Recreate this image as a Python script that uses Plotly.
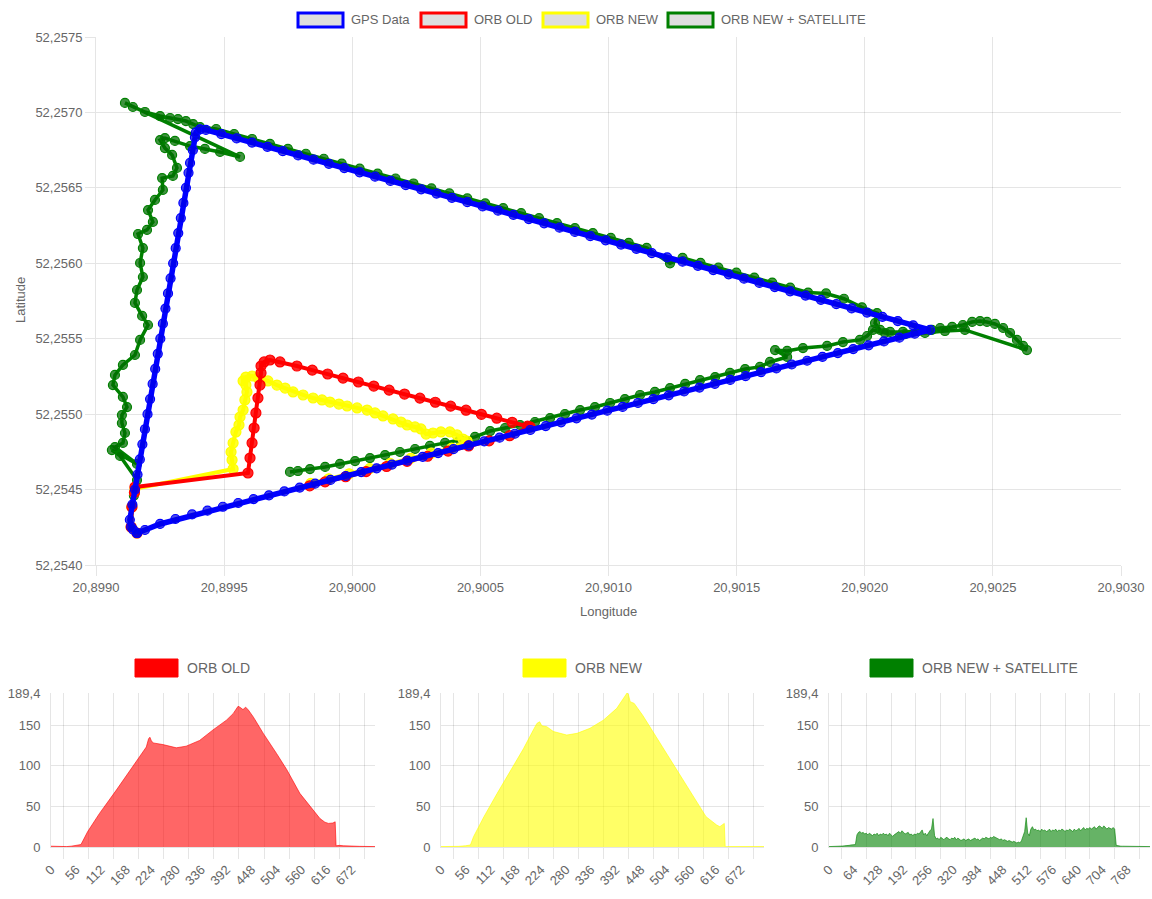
import plotly.graph_objects as go

W, H = 1152, 899

# ---------------- main chart: trajectories (degrees) ----------------
gps_lon = [20.899160, 20.899145, 20.899137, 20.899132, 20.899142, 20.899152, 20.899162, 20.899171,
           20.899181, 20.899191, 20.899201, 20.899211, 20.899221, 20.899231, 20.899241, 20.899251,
           20.899261, 20.899271, 20.899281, 20.899291, 20.899301, 20.899311, 20.899321, 20.899331,
           20.899341, 20.899351, 20.899361, 20.899367, 20.899378, 20.899386, 20.899390, 20.899406,
           20.899429, 20.899489, 20.899549, 20.899609, 20.899669, 20.899729, 20.899789, 20.899849,
           20.899909, 20.899969, 20.900029, 20.900089, 20.900149, 20.900209, 20.900269, 20.900329,
           20.900389, 20.900449, 20.900509, 20.900569, 20.900629, 20.900689, 20.900749, 20.900809,
           20.900869, 20.900929, 20.900989, 20.901049, 20.901109, 20.901169, 20.901229, 20.901289,
           20.901349, 20.901409, 20.901469, 20.901529, 20.901589, 20.901649, 20.901709, 20.901769,
           20.901829, 20.901889, 20.901949, 20.902009, 20.902069, 20.902129, 20.902189, 20.902255,
           20.902195, 20.902135, 20.902075, 20.902015, 20.901955, 20.901895, 20.901835, 20.901775,
           20.901715, 20.901655, 20.901595, 20.901535, 20.901475, 20.901415, 20.901355, 20.901295,
           20.901235, 20.901175, 20.901115, 20.901055, 20.900995, 20.900935, 20.900875, 20.900815,
           20.900755, 20.900695, 20.900635, 20.900575, 20.900515, 20.900455, 20.900395, 20.900335,
           20.900275, 20.900215, 20.900155, 20.900095, 20.900035, 20.899975, 20.899915, 20.899855,
           20.899795, 20.899735, 20.899675, 20.899615, 20.899555, 20.899495, 20.899435, 20.899375,
           20.899310, 20.899250, 20.899191, 20.899160]
gps_lat = [52.254212, 52.254235, 52.254252, 52.254300, 52.254400, 52.254500, 52.254600, 52.254700,
           52.254800, 52.254900, 52.255000, 52.255100, 52.255200, 52.255300, 52.255400, 52.255500,
           52.255600, 52.255700, 52.255800, 52.255900, 52.256000, 52.256100, 52.256200, 52.256300,
           52.256400, 52.256500, 52.256600, 52.256665, 52.256750, 52.256835, 52.256868, 52.256888,
           52.256884, 52.256856, 52.256828, 52.256800, 52.256772, 52.256743, 52.256715, 52.256687,
           52.256659, 52.256631, 52.256603, 52.256574, 52.256546, 52.256518, 52.256490, 52.256462,
           52.256434, 52.256405, 52.256377, 52.256349, 52.256321, 52.256293, 52.256265, 52.256236,
           52.256208, 52.256180, 52.256152, 52.256124, 52.256096, 52.256067, 52.256039, 52.256011,
           52.255983, 52.255955, 52.255927, 52.255898, 52.255870, 52.255842, 52.255814, 52.255786,
           52.255758, 52.255729, 52.255701, 52.255673, 52.255645, 52.255617, 52.255589, 52.255558,
           52.255533, 52.255507, 52.255482, 52.255456, 52.255431, 52.255405, 52.255380, 52.255354,
           52.255329, 52.255303, 52.255278, 52.255252, 52.255227, 52.255201, 52.255176, 52.255150,
           52.255125, 52.255099, 52.255074, 52.255048, 52.255023, 52.254997, 52.254972, 52.254946,
           52.254921, 52.254895, 52.254870, 52.254844, 52.254819, 52.254793, 52.254768, 52.254742,
           52.254717, 52.254692, 52.254666, 52.254641, 52.254615, 52.254590, 52.254564, 52.254539,
           52.254513, 52.254488, 52.254462, 52.254437, 52.254411, 52.254386, 52.254360, 52.254335,
           52.254305, 52.254272, 52.254232, 52.254212]

orb_old_lon = [20.899160, 20.899137, 20.899140, 20.899150, 20.899152,
               20.899593, 20.899601, 20.899609, 20.899617, 20.899624, 20.899632, 20.899640, 20.899644,
               20.899644, 20.899656, 20.899679, 20.899718, 20.899784,
               20.899844, 20.899904, 20.899964, 20.900024, 20.900084, 20.900144, 20.900204, 20.900264,
               20.900324, 20.900384, 20.900444, 20.900504, 20.900564, 20.900624, 20.900684, 20.900694,
               20.900614, 20.900534, 20.900454, 20.900374, 20.900294, 20.900214, 20.900134, 20.900054,
               20.899974, 20.899894, 20.899834]
orb_old_lat = [52.254212, 52.254252, 52.254384, 52.254480, 52.254517,
               52.254610, 52.254709, 52.254809, 52.254908, 52.255008, 52.255107, 52.255193, 52.255273,
               52.255319, 52.255346, 52.255359, 52.255346, 52.255319,
               52.255292, 52.255266, 52.255239, 52.255213, 52.255186, 52.255159, 52.255133, 52.255106,
               52.255079, 52.255053, 52.255026, 52.254999, 52.254973, 52.254946, 52.254920, 52.254915,
               52.254857, 52.254823, 52.254789, 52.254755, 52.254721, 52.254687, 52.254653, 52.254619,
               52.254585, 52.254551, 52.254525]

orb_new_lon = [20.899160, 20.899137, 20.899140, 20.899150, 20.899152,
               20.899535, 20.899531, 20.899527, 20.899535, 20.899546, 20.899558, 20.899562, 20.899574,
               20.899581, 20.899589, 20.899585, 20.899574, 20.899585, 20.899609, 20.899632, 20.899671,
               20.899706, 20.899738, 20.899769, 20.899808, 20.899847, 20.899882, 20.899913, 20.899948,
               20.899980, 20.900019, 20.900058, 20.900089, 20.900120, 20.900159, 20.900190, 20.900214,
               20.900245, 20.900268, 20.900288, 20.900315, 20.900346, 20.900381, 20.900409, 20.900432,
               20.900448,
               20.900388, 20.900308, 20.900228, 20.900148, 20.900068, 20.899988, 20.899908, 20.899838]
orb_new_lat = [52.254212, 52.254252, 52.254384, 52.254480, 52.254505,
               52.254636, 52.254696, 52.254749, 52.254809, 52.254882, 52.254928, 52.254981, 52.255027,
               52.255094, 52.255147, 52.255193, 52.255220, 52.255246, 52.255253, 52.255240, 52.255220,
               52.255193, 52.255173, 52.255147, 52.255127, 52.255107, 52.255094, 52.255080, 52.255067,
               52.255054, 52.255041, 52.255027, 52.255008, 52.254988, 52.254968, 52.254948, 52.254928,
               52.254915, 52.254902, 52.254868, 52.254875, 52.254882, 52.254882, 52.254862, 52.254835,
               52.254822,
               52.254775, 52.254741, 52.254707, 52.254673, 52.254639, 52.254605, 52.254571, 52.254541]

orb_sat_lon = [20.899160, 20.899137, 20.899140, 20.899148, 20.899160, 20.899094, 20.899062, 20.899160,
               20.899074, 20.899105, 20.899113, 20.899101, 20.899101, 20.899121, 20.899105, 20.899066,
               20.899074, 20.899105, 20.899152, 20.899172, 20.899203, 20.899180, 20.899152, 20.899160,
               20.899183, 20.899172, 20.899183, 20.899164, 20.899199, 20.899222, 20.899203, 20.899230,
               20.899261, 20.899258, 20.899300, 20.899316, 20.899297, 20.899269, 20.899250, 20.899269,
               20.899308, 20.899367, 20.899425, 20.899484, 20.899562,
               20.899113, 20.899144, 20.899191, 20.899250, 20.899289, 20.899320, 20.899351, 20.899379,
               20.899406,
               20.899469, 20.899539, 20.899609, 20.899679, 20.899749, 20.899819, 20.899889, 20.899959,
               20.900029, 20.900099, 20.900169, 20.900239, 20.900309, 20.900379, 20.900449, 20.900519,
               20.900589, 20.900659, 20.900729, 20.900799, 20.900869, 20.900939, 20.901009, 20.901079,
               20.901149, 20.901240, 20.901289, 20.901359, 20.901429, 20.901499, 20.901569, 20.901639,
               20.901709, 20.901779, 20.901849, 20.901919, 20.901989,
               20.902048, 20.902040, 20.902060, 20.902099, 20.902149, 20.902208, 20.902262, 20.902294,
               20.902341, 20.902383, 20.902419, 20.902450, 20.902477, 20.902508, 20.902540, 20.902567,
               20.902594, 20.902618, 20.902633,
               20.902391, 20.902313, 20.902235, 20.902157, 20.902079, 20.902032, 20.902009, 20.901981,
               20.901915, 20.901853, 20.901759, 20.901697, 20.901650, 20.901697, 20.901630, 20.901591,
               20.901533, 20.901474, 20.901416, 20.901357, 20.901299, 20.901240, 20.901181, 20.901123,
               20.901064, 20.901006, 20.900947, 20.900889, 20.900830, 20.900772, 20.900713, 20.900655,
               20.900596, 20.900538, 20.900479, 20.900420, 20.900362, 20.900303, 20.900245, 20.900186,
               20.900128, 20.900069, 20.900011, 20.899952, 20.899894, 20.899835, 20.899788, 20.899757]
orb_sat_lat = [52.254212, 52.254252, 52.254384, 52.254460, 52.254563, 52.254723, 52.254762, 52.254670,
               52.254782, 52.254809, 52.254875, 52.254941, 52.254994, 52.255047, 52.255114, 52.255193,
               52.255260, 52.255326, 52.255392, 52.255492, 52.255591, 52.255651, 52.255737, 52.255823,
               52.255909, 52.256002, 52.256101, 52.256194, 52.256221, 52.256274, 52.256353, 52.256420,
               52.256486, 52.256565, 52.256579, 52.256632, 52.256718, 52.256764, 52.256817, 52.256830,
               52.256811, 52.256777, 52.256758, 52.256738, 52.256705,
               52.257063, 52.257036, 52.257003, 52.256976, 52.256963, 52.256956, 52.256943, 52.256923,
               52.256903,
               52.256890, 52.256857, 52.256824, 52.256791, 52.256759, 52.256726, 52.256693, 52.256660,
               52.256627, 52.256594, 52.256562, 52.256529, 52.256496, 52.256463, 52.256430, 52.256397,
               52.256365, 52.256332, 52.256299, 52.256266, 52.256233, 52.256200, 52.256168, 52.256135,
               52.256102, 52.256000, 52.256036, 52.256003, 52.255971, 52.255938, 52.255905, 52.255872,
               52.255839, 52.255806, 52.255800, 52.255765, 52.255708,
               52.255670, 52.255604, 52.255558, 52.255545, 52.255545, 52.255551, 52.255558, 52.255571,
               52.255578, 52.255591, 52.255611, 52.255617, 52.255611, 52.255598, 52.255571, 52.255538,
               52.255492, 52.255452, 52.255425,
               52.255558, 52.255551, 52.255538, 52.255531, 52.255538, 52.255558, 52.255518, 52.255492,
               52.255478, 52.255452, 52.255438, 52.255419, 52.255425, 52.255379, 52.255346, 52.255313,
               52.255299, 52.255273, 52.255246, 52.255226, 52.255200, 52.255173, 52.255147, 52.255127,
               52.255100, 52.255074, 52.255047, 52.255027, 52.255001, 52.254974, 52.254948, 52.254928,
               52.254908, 52.254888, 52.254849, 52.254829, 52.254809, 52.254789, 52.254769, 52.254749,
               52.254729, 52.254709, 52.254689, 52.254670, 52.254650, 52.254636, 52.254623, 52.254617]

# ---------------- bottom charts: error per frame ----------------
err_old_idx = [0, 10, 20, 35, 45, 55, 62, 67, 82, 108, 146, 183, 213, 218, 221, 224, 228,
               250, 280, 302, 332, 362, 392, 407, 418, 422, 429, 435, 441, 452, 474, 504, 527,
               556, 579, 601, 612, 620, 630, 635, 637, 645, 653, 665, 690, 724]
err_old_val = [1, 0.8, 0.5, 0.5, 1, 2, 2.5, 3, 19, 41, 70, 99, 123, 133, 135, 131, 128,
               126, 122, 124, 131, 144, 156, 164, 173, 172, 169, 172, 168.5, 160, 140, 115, 95,
               66, 50, 35, 30.5, 29, 29.5, 31, 1.5, 2, 1.5, 1, 0.8, 0.5]

err_new_idx = [0, 20, 40, 55, 66, 73, 96, 126, 155, 185, 207, 215, 221, 226, 237, 252, 282,
               305, 334, 364, 394, 413, 417, 420, 424, 433, 452, 482, 519, 556, 594, 618, 625,
               635, 637, 650, 680, 724]
err_new_val = [0.5, 0.5, 0.8, 1.5, 2.5, 12.7, 37, 66, 92.6, 121, 144, 152, 154, 149, 148, 142,
               137.7, 139.8, 146, 156, 170.5, 185, 189.4, 187.7, 178.7, 176.6, 162, 135.7, 103,
               70, 37.3, 27, 25, 29, 0.4, 0.5, 0.5, 0.5]

# sampled every 4 frames
err_sat_val = [0.5, 0.5, 0.5, 0.5, 0.8, 0.8, 1, 1, 1.2, 1.2, 1.5, 1.5, 2, 2, 2.5, 2.5, 2.5,
               3, 15, 18, 19, 17, 18, 16, 17, 15, 17, 16, 14, 16, 15, 17, 14, 16, 15, 17, 15,
               16, 14, 17, 15, 13, 15, 16, 18, 19, 17, 20, 18, 16, 17, 18, 15, 16, 14, 16, 15,
               17, 16, 19, 21, 15, 17, 14, 18, 20, 22, 35, 14, 10, 11, 9, 12, 10, 9, 11, 12,
               10, 9, 11, 10, 12, 9, 11, 10, 8, 9, 10, 8, 9, 10, 8, 9, 10, 11, 9, 10,
               8, 9, 11, 10, 12, 11, 10, 12, 11, 13, 12, 11, 10, 9, 10, 8, 9, 8, 7, 8,
               7, 6, 7, 6, 5, 6, 5, 8, 15, 19, 36, 17, 14, 22, 25, 21, 22, 20, 21, 19,
               22, 20, 21, 19, 20, 22, 19, 21, 20, 22, 19, 21, 20, 22, 21, 19, 21, 20, 22, 21,
               19, 22, 20, 21, 23, 20, 22, 24, 21, 23, 22, 24, 22, 23, 25, 22, 24, 26, 25, 23,
               26, 24, 22, 24, 23, 22, 24, 22,
               2, 1.5, 1.5, 1, 1, 1, 1, 0.8, 0.8, 0.8, 0.8, 0.6, 0.6, 0.6, 0.6, 0.5, 0.5, 0.5,
               0.5, 0.5, 0.5, 0.5, 0.5]
err_sat_idx = list(range(0, 4 * len(err_sat_val), 4))

ticks_56 = [0, 56, 112, 168, 224, 280, 336, 392, 448, 504, 560, 616, 672]
grid_56 = [28, 84, 140, 196, 252, 308, 364, 420, 476, 532, 588, 644, 700]
ticks_64 = [0, 64, 128, 192, 256, 320, 384, 448, 512, 576, 640, 704, 768]
grid_64 = [32, 96, 160, 224, 288, 352, 416, 480, 544, 608, 672, 736, 800]
err_ticks = [0, 50, 100, 150, 189.4]
err_ticktext = ["0", "50", "100", "150", "189,4"]

FONT = "Liberation Sans, Arial, Helvetica, sans-serif"
GRID = "rgba(0,0,0,0.1)"
TXT = "#666666"
NONE = "rgba(0,0,0,0)"


def fx(x):
    return x / W


def fy(y):
    return 1 - y / H


fig = go.Figure()

main_series = [
    ("ORB NEW + SATELLITE", orb_sat_lon, orb_sat_lat, "rgb(0,128,0)", "rgba(0,110,0,0.75)", 9, 3.5),
    ("ORB NEW", orb_new_lon, orb_new_lat, "rgb(255,255,0)", "rgba(255,255,0,0.85)", 10, 4),
    ("ORB OLD", orb_old_lon, orb_old_lat, "rgb(255,0,0)", "rgba(255,0,0,0.85)", 10, 4),
    ("GPS Data", gps_lon, gps_lat, "rgb(0,0,255)", "rgba(0,0,230,0.7)", 9, 5.5),
]
for name, lon, lat, col, fillc, msize, lw in main_series:
    fig.add_trace(go.Scatter(
        x=lon, y=lat, name=name, mode="lines+markers",
        line=dict(color=col, width=lw),
        marker=dict(size=msize, color=fillc, line=dict(color=col, width=1.2)),
        xaxis="x", yaxis="y", showlegend=False))

bottom = [
    (err_old_idx, err_old_val, "rgba(255,0,0,0.6)", "2"),
    (err_new_idx, err_new_val, "rgba(255,255,0,0.6)", "3"),
    (err_sat_idx, err_sat_val, "rgba(0,128,0,0.6)", "4"),
]
for idx, val, col, k in bottom:
    fig.add_trace(go.Scatter(
        x=idx, y=val, mode="lines", fill="tozeroy", fillcolor=col,
        line=dict(color=col, width=1), xaxis="x" + k, yaxis="y" + k,
        showlegend=False, hoverinfo="x+y"))

tickfont = dict(family=FONT, size=13, color=TXT)

layout = dict(
    width=W, height=H, margin=dict(l=0, r=0, t=0, b=0, autoexpand=False),
    paper_bgcolor="white", plot_bgcolor="white", separators=", ",
    font=dict(family=FONT, size=13, color=TXT), showlegend=False,
    xaxis=dict(domain=[fx(96), fx(1121)], range=[20.899, 20.903], tick0=20.899, dtick=0.0005,
               tickformat=".4f", showgrid=True, gridcolor=GRID, zeroline=False, showline=True,
               linecolor=GRID, mirror=False, ticks="outside", ticklen=10, tickcolor=GRID,
               tickfont=tickfont, anchor="y", automargin=False),
    yaxis=dict(domain=[fy(565), fy(37)], range=[52.254, 52.2575], tick0=52.254, dtick=0.0005,
               tickformat=".4f", showgrid=True, gridcolor=GRID, zeroline=False, showline=True,
               linecolor=GRID, ticks="outside", ticklen=10, tickcolor=GRID,
               tickfont=tickfont, anchor="x", automargin=False),
)

panels = [
    ("2", 51, 375, 724, ticks_56, grid_56),
    ("3", 441, 764, 724, ticks_56, grid_56),
    ("4", 829, 1150, 827, ticks_64, grid_64),
]
for k, x0, x1, xmax, tv, gv in panels:
    layout["xaxis" + k] = dict(
        domain=[fx(x0), fx(x1)], range=[0, xmax], tickmode="array", tickvals=tv,
        ticktext=[str(v) for v in tv], tickangle=-45, showgrid=False, zeroline=False,
        showline=True, linecolor=GRID, ticks="outside", ticklen=9, tickcolor=NONE,
        tickfont=tickfont, anchor="y" + k, automargin=False,
        minor=dict(tickmode="array", tickvals=gv, showgrid=True, gridcolor=GRID,
                   ticks="outside", ticklen=11, tickcolor=GRID))
    layout["yaxis" + k] = dict(
        domain=[fy(847), fy(693)], range=[0, 189.4], tickmode="array", tickvals=err_ticks,
        ticktext=err_ticktext, showgrid=True, gridcolor=GRID, zeroline=False, showline=True,
        linecolor=GRID, ticks="outside", ticklen=7, tickcolor=NONE, tickfont=tickfont,
        anchor="x" + k, automargin=False)

fig.update_layout(**layout)

shapes = []
annotations = []

# top legend (box outline + label)
top_legend = [("GPS Data", 298, "rgb(0,0,255)"), ("ORB OLD", 421, "rgb(255,0,0)"),
              ("ORB NEW", 543, "rgb(255,255,0)"), ("ORB NEW + SATELLITE", 668, "rgb(0,128,0)")]
for label, bx, col in top_legend:
    shapes.append(dict(type="rect", xref="paper", yref="paper", x0=fx(bx), x1=fx(bx + 45),
                       y0=fy(27), y1=fy(13), fillcolor="#dedede", line=dict(color=col, width=3)))
    annotations.append(dict(xref="paper", yref="paper", x=fx(bx + 51), y=fy(20), text=label,
                            showarrow=False, xanchor="left", yanchor="middle",
                            font=dict(family=FONT, size=13, color=TXT)))

# bottom legends (filled box + label)
bottom_legend = [("ORB OLD", 135, "rgb(255,0,0)"), ("ORB NEW", 523, "rgb(255,255,0)"),
                 ("ORB NEW + SATELLITE", 870, "rgb(0,128,0)")]
for label, bx, col in bottom_legend:
    shapes.append(dict(type="rect", xref="paper", yref="paper", x0=fx(bx), x1=fx(bx + 43),
                       y0=fy(677), y1=fy(659), fillcolor=col, line=dict(color=col, width=1)))
    annotations.append(dict(xref="paper", yref="paper", x=fx(bx + 50), y=fy(668), text=label,
                            showarrow=False, xanchor="left", yanchor="middle",
                            font=dict(family=FONT, size=14, color=TXT)))

# axis titles
annotations.append(dict(xref="paper", yref="paper", x=fx(608), y=fy(611), text="Longitude",
                        showarrow=False, xanchor="center", yanchor="middle",
                        font=dict(family=FONT, size=13, color=TXT)))
annotations.append(dict(xref="paper", yref="paper", x=fx(20), y=fy(300), text="Latitude",
                        showarrow=False, xanchor="center", yanchor="middle", textangle=-90,
                        font=dict(family=FONT, size=13, color=TXT)))

fig.update_layout(shapes=shapes, annotations=annotations)

fig.write_html("out.html")
